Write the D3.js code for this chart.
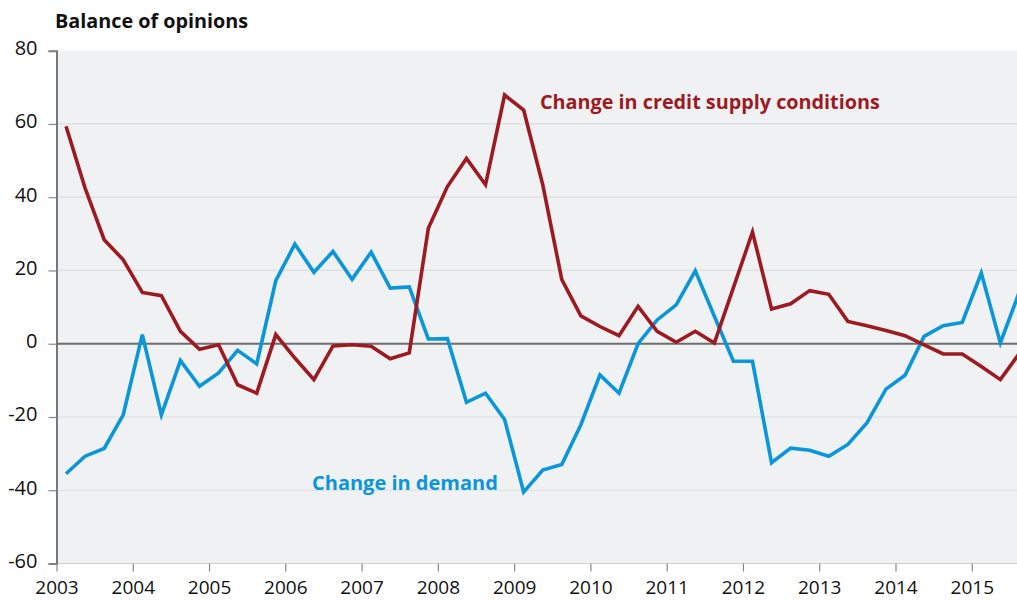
<!DOCTYPE html>
<html><head><meta charset="utf-8">
<script src="https://cdn.jsdelivr.net/npm/d3@7"></script>
<style>
body{margin:0;background:#fff;}
text{font-family:"Open Sans",sans-serif;}
</style></head>
<body><svg id="c" width="1017" height="600"></svg>
<script>
// Quarterly observations, Q1 2003 onward (plotted mid-quarter)
const startYear = 2003;
const creditSupply = [59.4,42.5,28.4,22.9,14.0,13.1,3.4,-1.5,-0.3,-11.2,
  -13.5,2.5,-3.9,-9.8,-0.6,-0.3,-0.7,-4.1,-2.5,31.5,
  42.9,50.6,43.4,67.9,63.8,43.4,17.5,7.6,4.7,2.2,
  10.2,3.4,0.4,3.4,0.2,15.3,30.5,9.5,10.9,14.5,
  13.5,6.1,4.9,3.6,2.2,-0.3,-2.8,-2.8,-6.2,-9.8,-2.6];
const demand = [-35.5,-30.7,-28.6,-19.4,2.5,-19.4,-4.6,-11.6,-8.0,-1.8,
  -5.5,17.2,27.2,19.5,25.2,17.6,25.0,15.2,15.5,1.3,
  1.4,-16.0,-13.5,-20.7,-40.5,-34.5,-33.0,-22.1,-8.5,-13.5,
  0.0,6.5,10.6,19.9,7.5,-4.8,-4.8,-32.5,-28.5,-29.1,
  -30.7,-27.5,-21.6,-12.4,-8.6,2.0,4.9,5.8,19.3,0.2,14.2];
const yearTicks = [2003,2004,2005,2006,2007,2008,2009,2010,2011,2012,2013,2014,2015];
const valueTicks = [-60,-40,-20,0,20,40,60,80];
const title = "Balance of opinions";
const creditLabel = "Change in credit supply conditions";
const demandLabel = "Change in demand";

const svg = d3.select("#c");
const L = 56.5, R = 1017, T = 50.7, B = 563.5;
const x = d3.scaleLinear().domain([2003, 2015.593]).range([L, R]);
const y = d3.scaleLinear().domain([-60, 80]).range([B, T]);
const tOf = i => startYear + 0.125 + 0.25 * i;

svg.append("rect").attr("x", L).attr("y", T).attr("width", R - L).attr("height", B - T).attr("fill", "#f0f1f3");
svg.append("defs").append("clipPath").attr("id", "clip")
  .append("rect").attr("x", L).attr("y", 0).attr("width", R - L).attr("height", 600);

// gridlines
svg.append("g").selectAll("line").data(valueTicks.filter(v => v !== 0 && v !== -60 && v !== 80)).join("line")
  .attr("x1", L).attr("x2", R).attr("y1", d => y(d)).attr("y2", d => y(d))
  .attr("stroke", "#dcdde0").attr("stroke-width", 1.2);
// bottom line
svg.append("line").attr("x1", L).attr("x2", R).attr("y1", B).attr("y2", B).attr("stroke", "#cfd0d2").attr("stroke-width", 1.2);

// y axis
const yAxis = svg.append("g").attr("transform", `translate(${L},0)`)
  .call(d3.axisLeft(y).tickValues(valueTicks).tickSize(8).tickPadding(11).tickFormat(d => String(d)));
yAxis.select(".domain").attr("stroke", "#777").attr("stroke-width", 2);
yAxis.selectAll(".tick line").attr("stroke", "#888").attr("stroke-width", 1.2);
yAxis.selectAll("text").attr("font-size", 20).attr("dy", "0.2em").attr("fill", "#111").style("font-family", "'Open Sans',sans-serif");

// x axis
const xAxis = svg.append("g").attr("transform", `translate(0,${B})`)
  .call(d3.axisBottom(x).tickValues(yearTicks).tickSize(8).tickPadding(9).tickFormat(d => String(d)));
xAxis.select(".domain").remove();
xAxis.selectAll(".tick line").attr("stroke", "#888").attr("stroke-width", 1.2);
xAxis.selectAll("text").attr("font-size", 19).attr("fill", "#111").style("font-family", "'Open Sans',sans-serif");

// zero line
svg.append("line").attr("x1", L).attr("x2", R).attr("y1", y(0)).attr("y2", y(0)).attr("stroke", "#6e6e6e").attr("stroke-width", 2);

const line = d3.line().x((d, i) => x(tOf(i))).y(d => y(d));
const g = svg.append("g").attr("clip-path", "url(#clip)");
g.append("path").datum(demand).attr("d", line).attr("fill", "none").attr("stroke", "#0a96d8").attr("stroke-width", 3.6).attr("stroke-linejoin", "miter");
g.append("path").datum(creditSupply).attr("d", line).attr("fill", "none").attr("stroke", "#9c1b23").attr("stroke-width", 3.6).attr("stroke-linejoin", "miter");

svg.append("text").attr("x", 55).attr("y", 27.5).text(title).attr("font-size", 19.8).attr("font-weight", 700).attr("fill", "#111");
svg.append("text").attr("x", 540).attr("y", 108.5).text(creditLabel).attr("font-size", 19.8).attr("font-weight", 700).attr("fill", "#9c1b23");
svg.append("text").attr("x", 312).attr("y", 490).text(demandLabel).attr("font-size", 20).attr("font-weight", 700).attr("fill", "#0a96d8");
</script></body></html>
